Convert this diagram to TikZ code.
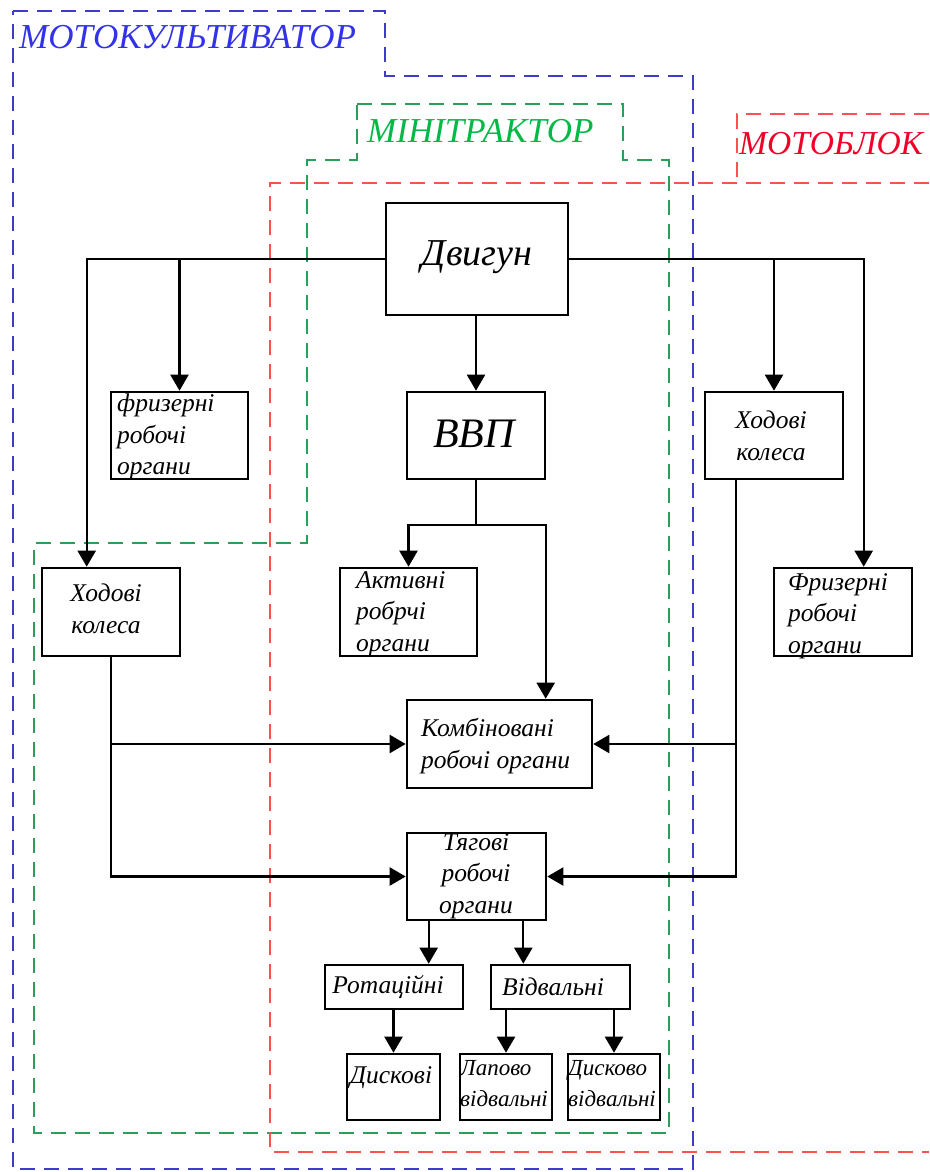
\documentclass[tikz,border=0pt]{standalone}
\usepackage{fontspec}
\setmainfont{Liberation Serif}
\usetikzlibrary{arrows.meta,calc,fit}
\definecolor{zblue}{RGB}{60,60,200}
\definecolor{zgreen}{RGB}{40,160,90}
\definecolor{zred}{RGB}{255,80,80}
\definecolor{tblue}{RGB}{50,50,235}
\definecolor{tgreen}{RGB}{0,185,70}
\definecolor{tred}{RGB}{240,0,40}
\begin{document}
\begin{tikzpicture}[x=1pt,y=-1pt,
  box/.style={draw, line width=2.6pt, inner sep=0pt},
  arr/.style={line width=2.2pt, -{Triangle[length=16pt,width=18pt]}},
  ln/.style={line width=2.2pt},
  region/.style={line width=2.8pt, dash pattern=on 15pt off 9pt},
  txt/.style={font=\fontsize{25.5}{31.5}\selectfont\itshape, inner sep=0pt},
  sml/.style={font=\fontsize{23}{31}\selectfont\itshape, inner sep=0pt},
  big/.style={font=\fontsize{38}{42}\selectfont\itshape, inner sep=0pt},
  ttl/.style={font=\fontsize{35}{38}\selectfont\itshape, inner sep=0pt, anchor=west}
]
\useasboundingbox (0,0) rectangle (929,1172);

% regions
\draw[region, zblue] (13,11) -- (385,11) -- (385,76) -- (693,76) -- (693,1169) -- (13,1169) -- cycle;
\draw[region, zgreen] (357,104) -- (623,104) -- (623,160) -- (669,160) -- (669,1133) -- (34,1133) -- (34,543) -- (307,543) -- (307,160) -- (357,160) -- cycle;
\draw[region, zred] (929,114) -- (737,114) -- (737,183);
\draw[region, zred] (929,183) -- (270,183) -- (270,1152) -- (929,1152);

\node[ttl, text=tblue] (tmk) at (19,37) {МОТОКУЛЬТИВАТОР};
\node[ttl, text=tgreen] (tmt) at (367,131) {МІНІТРАКТОР};
\node[ttl, text=tred, font=\fontsize{33.5}{38}\selectfont\itshape] (tmb) at (739,144) {МОТОБЛОК};

% boxes
\node[box, fit={(386,203) (568,315)}] (dv) {};
\node[box, fit={(111,392) (248,479)}] (fzL) {};
\node[box, fit={(407,392) (545,479)}] (vvp) {};
\node[box, fit={(705,392) (843,479)}] (hkR) {};
\node[box, fit={(42,568) (180,656)}] (hkL) {};
\node[box, fit={(340,568) (477,656)}] (akt) {};
\node[box, fit={(774,568) (912,656)}] (fzR) {};
\node[box, fit={(407,700) (592,788)}] (komb) {};
\node[box, fit={(407,833) (546,920)}] (tyag) {};
\node[box, fit={(325,965) (463,1009)}] (rot) {};
\node[box, fit={(491,965) (630,1009)}] (vid) {};
\node[box, fit={(347,1054) (440,1120)}] (disk) {};
\node[box, fit={(460,1054) (552,1120)}] (lap) {};
\node[box, fit={(568,1054) (660,1120)}] (disv) {};

% texts
\node[big] (t-dv) at (477,257) {Двигун};
\node[big, font=\fontsize{42}{46}\selectfont\itshape] (t-vvp) at (474,434) {ВВП};
\node[txt, align=left, anchor=west] (t-fzL) at (117,437) {фризерні\\робочі\\органи};
\node[txt, align=center] (t-hkR) at (771,436) {Ходові\\колеса};
\node[txt, align=center] (t-hkL) at (106,609) {Ходові\\колеса};
\node[txt, align=left, anchor=west] (t-akt) at (356,614) {Активні\\робрчі\\органи};
\node[txt, align=left, anchor=west] (t-fzR) at (788,616) {Фризерні\\робочі\\органи};
\node[txt, align=left, anchor=west] (t-komb) at (421,746) {Комбіновані\\робочі органи};
\node[txt, align=center] (t-tyag) at (476,876) {Тягові\\робочі\\органи};
\node[txt] (t-rot) at (388,987) {Ротаційні};
\node[txt] (t-vid) at (553,987) {Відвальні};
\node[txt] (t-disk) at (391,1078) {Дискові};
\node[sml, align=left, anchor=west] (t-lap) at (460,1084) {Лапово\\відвальні};
\node[sml, align=left, anchor=west] (t-disv) at (568,1084) {Дисково\\відвальні};

% connectors
\draw[arr] (dv.west) -| ($(hkL.north west)+(46,0)$);
\draw[arr] (fzL.north |- dv.west) -- (fzL.north);
\draw[arr] (dv.east) -| ($(fzR.north west)+(91,0)$);
\draw[arr] (hkR.north |- dv.east) -- (hkR.north);
\draw[arr] (vvp.north |- dv.south) -- (vvp.north);
\draw[ln] (vvp.south) -- ++(0,45) coordinate (vj);
\draw[arr] (vj) -| (akt.north);
\draw[arr] (vj) -| ($(komb.north west)+(140,0)$);
\draw[arr] (hkL.south) |- (tyag.west);
\draw[arr] (hkL.south |- komb.west) -- (komb.west);
\coordinate (hr) at ($(hkR.south west)+(32,0)$);
\draw[arr] (hr) |- (tyag.east);
\draw[arr] (hr |- komb.east) -- (komb.east);
\coordinate (t1) at ($(tyag.south west)+(23,0)$);
\coordinate (t2) at ($(tyag.south east)+(-24,0)$);
\draw[arr] (t1) -- (t1 |- rot.north);
\draw[arr] (t2) -- (t2 |- vid.north);
\draw[arr] (rot.south -| disk.north) -- (disk.north);
\draw[arr] (vid.south -| lap.north) -- (lap.north);
\draw[arr] (vid.south -| disv.north) -- (disv.north);
\end{tikzpicture}
\end{document}
